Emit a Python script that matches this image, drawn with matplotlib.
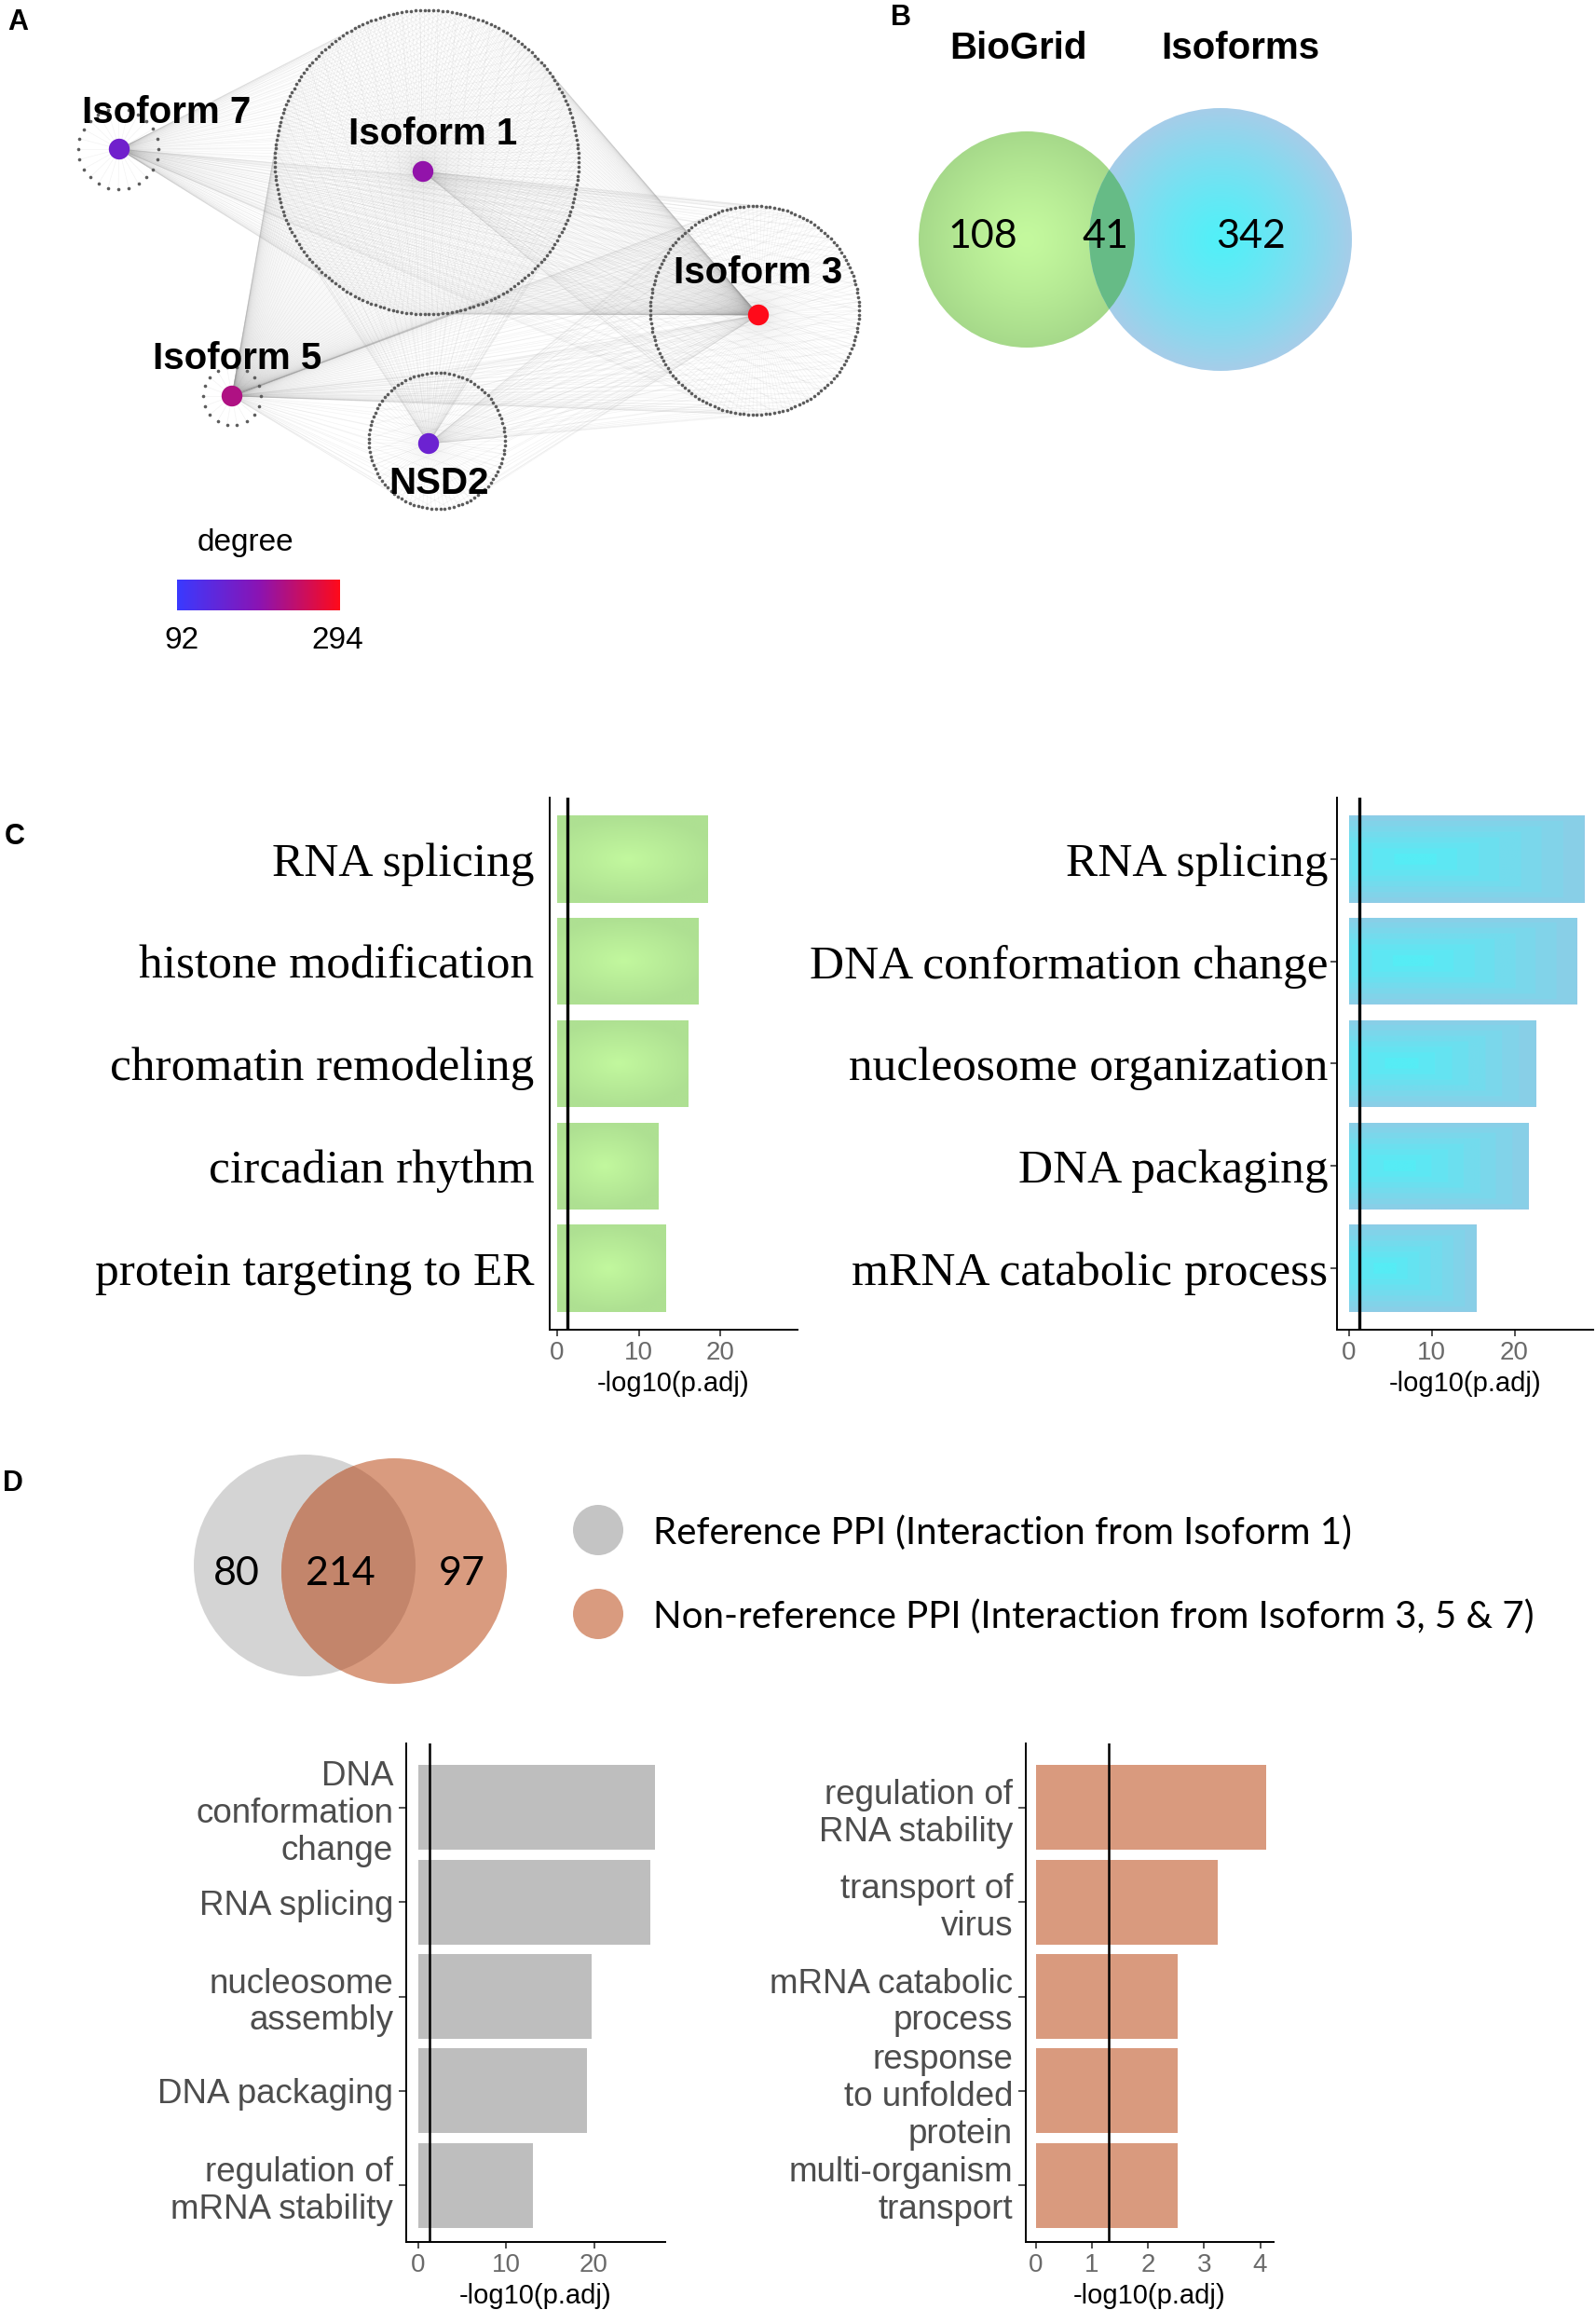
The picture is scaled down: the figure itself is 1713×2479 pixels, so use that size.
import numpy as np
import matplotlib.pyplot as plt
from matplotlib.patches import Circle
from matplotlib.collections import LineCollection
from matplotlib.colors import LinearSegmentedColormap, to_rgb

plt.rcParams['font.family'] = ['Liberation Sans', 'DejaVu Sans']

# -----------------------------
# DATA
# -----------------------------
# A: isoform network (hub degree)
net_nodes = ["Isoform 1", "Isoform 3", "Isoform 5", "Isoform 7", "NSD2"]
net_degree = [200, 294, 225, 160, 155]
degree_range = [92, 294]

# B: BioGrid vs isoforms venn
venn_b_sets = ["BioGrid", "Isoforms"]
venn_b_counts = [108, 41, 342]

# C: GO enrichment
go_bio_terms = ["RNA splicing", "histone modification", "chromatin remodeling",
                "circadian rhythm", "protein targeting to ER"]
go_bio_vals = [18.4, 17.3, 16.0, 12.4, 13.3]
go_iso_terms = ["RNA splicing", "DNA conformation change", "nucleosome organization",
                "DNA packaging", "mRNA catabolic process"]
go_iso_vals = [28.4, 27.5, 22.5, 21.6, 15.4]

# D: reference vs non-reference PPI
venn_d_counts = [80, 214, 97]
venn_d_legend = ["Reference PPI (Interaction from Isoform 1)",
                 "Non-reference PPI (Interaction from Isoform 3, 5 & 7)"]
go_ref_terms = ["DNA\nconformation\nchange", "RNA splicing", "nucleosome\nassembly",
                "DNA packaging", "regulation of\nmRNA stability"]
go_ref_vals = [26.9, 26.4, 19.7, 19.2, 13.1]
go_nonref_terms = ["regulation of\nRNA stability", "transport of\nvirus",
                   "mRNA catabolic\nprocess", "response\nto unfolded\nprotein",
                   "multi-organism\ntransport"]
go_nonref_vals = [4.1, 3.24, 2.53, 2.53, 2.53]

p_cut = 1.3  # -log10(0.05)

# -----------------------------
# FIGURE (pixel-space overlay)
# -----------------------------
W, H = 1713, 2479
fig = plt.figure(figsize=(W / 100, H / 100), dpi=100)
ax0 = fig.add_axes([0, 0, 1, 1])
ax0.set_xlim(0, W)
ax0.set_ylim(H, 0)
ax0.axis("off")


def px_axes(left, top, right, bottom):
    return fig.add_axes([left / W, 1 - bottom / H, (right - left) / W, (bottom - top) / H])


def gradient_disc(ax, cx, cy, r, inner, outer, zorder, power=1.3):
    g = np.linspace(-1, 1, 300)
    X, Y = np.meshgrid(g, g)
    d = np.clip(np.sqrt(X ** 2 + Y ** 2), 0, 1) ** power
    c0, c1 = np.array(to_rgb(inner)), np.array(to_rgb(outer))
    img = c0 * (1 - d[..., None]) + c1 * d[..., None]
    circ = Circle((cx, cy), r, fc="none", ec="none")
    ax.add_patch(circ)
    im = ax.imshow(img, extent=(cx - r, cx + r, cy + r, cy - r), zorder=zorder,
                   aspect="auto", interpolation="bilinear")
    im.set_clip_path(circ)
    return circ


# panel letters
for letter, (lx, ly) in zip("ABCD", [(19, 24), (967, 19), (16, 898), (14, 1592)]):
    ax0.text(lx, ly, letter, fontsize=22, fontweight="bold", ha="center", va="center")

# -----------------------------
# A: network
# -----------------------------
hub_xy = {"Isoform 1": (454, 184), "Isoform 3": (814, 338), "Isoform 5": (249, 425),
          "Isoform 7": (128, 160), "NSD2": (460, 476)}
ring_geo = {"Isoform 1": (458, 174, 163, 210), "Isoform 3": (810, 333, 112, 150),
            "NSD2": (469, 473, 73, 95), "Isoform 7": (127, 160, 43, 24),
            "Isoform 5": (249, 425, 31, 18)}
label_xy = {"Isoform 1": (465, 144), "Isoform 3": (814, 293), "Isoform 5": (255, 385),
            "Isoform 7": (179, 121), "NSD2": (471, 519)}
edge_links = [("Isoform 1", "Isoform 1", 1), ("Isoform 3", "Isoform 3", 1),
              ("NSD2", "NSD2", 1), ("Isoform 7", "Isoform 7", 1), ("Isoform 5", "Isoform 5", 1),
              ("Isoform 3", "Isoform 1", 1), ("Isoform 5", "Isoform 1", 1),
              ("Isoform 5", "Isoform 3", 2), ("Isoform 5", "NSD2", 3),
              ("Isoform 7", "Isoform 1", 2), ("Isoform 7", "Isoform 3", 4),
              ("NSD2", "Isoform 1", 4), ("NSD2", "Isoform 3", 4),
              ("Isoform 1", "Isoform 3", 3), ("Isoform 3", "NSD2", 3)]

ring_pts = {}
for name, (cx, cy, r, n) in ring_geo.items():
    t = np.linspace(0, 2 * np.pi, n, endpoint=False)
    ring_pts[name] = np.column_stack([cx + r * np.cos(t), cy + r * np.sin(t)])

segs = []
for hub, ring, step in edge_links:
    hx, hy = hub_xy[hub]
    for p in ring_pts[ring][::step]:
        segs.append([(hx, hy), (p[0], p[1])])
ax0.add_collection(LineCollection(segs, colors="#9a9a9a", linewidths=0.5, alpha=0.12, zorder=1))

for name, pts in ring_pts.items():
    ax0.plot(pts[:, 0], pts[:, 1], "o", ms=2.6, color="#5c5c5c", mec="none", zorder=2)

deg_cmap = LinearSegmentedColormap.from_list("deg", ["#3a3aff", "#8a14b4", "#ff0a1a"])
ax0.scatter([hub_xy[n][0] for n in net_nodes], [hub_xy[n][1] for n in net_nodes],
            c=net_degree, cmap=deg_cmap, vmin=degree_range[0], vmax=degree_range[1],
            s=260, zorder=4, edgecolors="none")
for n in net_nodes:
    ax0.text(*label_xy[n], n, fontsize=29, fontweight="bold", ha="center", va="center", zorder=5)

# degree colourbar
ax0.imshow(np.linspace(0, 1, 256)[None, :], cmap=deg_cmap, extent=(190, 365, 655, 622),
           aspect="auto", zorder=3)
ax0.text(263, 582, "degree", fontsize=24, ha="center", va="center")
ax0.text(195, 688, str(degree_range[0]), fontsize=24, ha="center", va="center")
ax0.text(362, 688, str(degree_range[1]), fontsize=24, ha="center", va="center")

# -----------------------------
# B: venn
# -----------------------------
green_c = gradient_disc(ax0, 1102, 257, 116, "#c4f99e", "#a6d98a", 2)
blue_c = gradient_disc(ax0, 1310, 257, 141, "#52f0f8", "#a6cde9", 3)
ov = Circle((1102, 257), 116, fc="#66bb86", ec="none", zorder=4)
ax0.add_patch(ov)
ov.set_clip_path(blue_c)
for txt, x in zip(venn_b_sets, [1093, 1331]):
    ax0.text(x, 52, txt, fontsize=29, fontweight="bold", ha="center", va="center")
for val, x in zip(venn_b_counts, [1055, 1186, 1343]):
    ax0.text(x, 254, str(val), fontsize=31, family=["Lato", "DejaVu Sans"],
             ha="center", va="center", zorder=6)

# -----------------------------
# bar helper
# -----------------------------
gx = np.linspace(0, 1, 240)
gy = np.linspace(-1, 1, 80)
GX, GY = np.meshgrid(gx, gy)
d_rad = np.clip(np.sqrt(((GX - 0.47) / 0.6) ** 2 + GY ** 2), 0, 1)
green_fill = (np.array(to_rgb("#c2f89e")) * (1 - d_rad[..., None])
              + np.array(to_rgb("#aee092")) * d_rad[..., None])
d_box = np.maximum(np.abs(GX - 0.28) / 0.72, np.abs(GY))
d_box = np.floor(d_box * 8) / 8
blue_fill = (np.array(to_rgb("#56ecf5")) * (1 - d_box[..., None])
             + np.array(to_rgb("#90cbe6")) * d_box[..., None])


def go_barh(box, terms, vals, xlim, ylim, xticks, color, bar_h, font, fsize,
            lab_color, ytick_len, ypad, vline_w, fill=None, linespacing=1.0):
    ax = px_axes(*box)
    ypos = np.arange(len(terms))
    bars = ax.barh(ypos, vals, height=bar_h, color=color, zorder=1)
    if fill is not None:
        for b in bars:
            x0, y0, w, h = b.get_x(), b.get_y(), b.get_width(), b.get_height()
            im = ax.imshow(fill, extent=(x0, x0 + w, y0 + h, y0), aspect="auto",
                           zorder=2, interpolation="bilinear")
            im.set_clip_path(b)
    ax.axvline(p_cut, color="black", lw=vline_w, zorder=3)
    ax.set_xlim(*xlim)
    ax.set_ylim(*ylim)
    ax.set_yticks(ypos)
    ax.set_yticklabels(terms, family=font, fontsize=fsize, color=lab_color,
                       linespacing=linespacing)
    ax.set_xticks(xticks)
    ax.set_xticklabels([str(t) for t in xticks], fontsize=20, color="#6a6a6a")
    ax.tick_params(axis="y", length=ytick_len, width=1.2, color="#333333", pad=ypad)
    ax.tick_params(axis="x", length=5, width=1.2, color="#333333", pad=4)
    ax.set_xlabel("-log10(p.adj)", fontsize=21, labelpad=4)
    for s in ["top", "right"]:
        ax.spines[s].set_visible(False)
    for s in ["left", "bottom"]:
        ax.spines[s].set_linewidth(1.4)
    return ax


# -----------------------------
# C: GO bars
# -----------------------------
go_barh((590, 856, 856, 1427), go_bio_terms, go_bio_vals, (-0.9, 29.4), (4.6, -0.6),
        [0, 10, 20], "#b0e294", 0.85, ["Liberation Serif"], 37, "black", 0, 12, 2.4,
        fill=green_fill)
go_barh((1435, 856, 1710, 1427), go_iso_terms, go_iso_vals, (-1.43, 29.5), (4.6, -0.6),
        [0, 10, 20], "#8ecbe6", 0.85, ["Liberation Serif"], 37, "black", 5, 2, 2.4,
        fill=blue_fill)

# -----------------------------
# D: venn + legend
# -----------------------------
gray_c = Circle((327, 1680), 119, fc="#d4d4d4", ec="none", zorder=2)
orange_c = Circle((423, 1686), 121, fc="#d99b7f", ec="none", zorder=3)
ax0.add_patch(gray_c)
ax0.add_patch(orange_c)
ov2 = Circle((423, 1686), 121, fc="#c3856b", ec="none", zorder=4)
ax0.add_patch(ov2)
ov2.set_clip_path(gray_c)
for val, x in zip(venn_d_counts, [254, 365, 496]):
    ax0.text(x, 1689, str(val), fontsize=31, family=["Lato", "DejaVu Sans"],
             ha="center", va="center", zorder=6)
for txt, col, y in zip(venn_d_legend, ["#c4c4c4", "#d99b7f"], [1642, 1732]):
    ax0.add_patch(Circle((642, y), 27, fc=col, ec="none", zorder=3))
    ax0.text(701, y + 3, txt, fontsize=29, family=["Lato", "DejaVu Sans"],
             ha="left", va="center")

# D: GO bars
go_barh((436, 1871, 714, 2406), go_ref_terms, go_ref_vals, (-1.34, 28.1), (4.6, -0.68),
        [0, 10, 20], "#bebebe", 0.9, ["Liberation Sans"], 26.5, "#4d4d4d", 6, 4, 1.8,
        linespacing=1.18)
go_barh((1101, 1871, 1367, 2406), go_nonref_terms, go_nonref_vals, (-0.18, 4.24),
        (4.6, -0.68), [0, 1, 2, 3, 4], "#d99a7e", 0.9, ["Liberation Sans"], 26.5,
        "#4d4d4d", 6, 4, 1.8, linespacing=1.18)

plt.savefig("out.png", dpi=100)
